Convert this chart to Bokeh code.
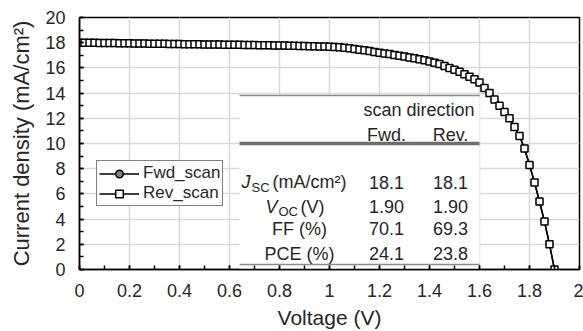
from bokeh.plotting import figure
from bokeh.models import FixedTicker, Label, Legend, LegendItem, Range1d, NumeralTickFormatter
from bokeh.embed import file_html
from bokeh.resources import INLINE

# ---------------- data ----------------
voltage = [0.00, 0.02, 0.04, 0.06, 0.08, 0.10, 0.12, 0.14, 0.16, 0.18,
           0.20, 0.22, 0.24, 0.26, 0.28, 0.30, 0.32, 0.34, 0.36, 0.38,
           0.40, 0.42, 0.44, 0.46, 0.48, 0.50, 0.52, 0.54, 0.56, 0.58,
           0.60, 0.62, 0.64, 0.66, 0.68, 0.70, 0.72, 0.74, 0.76, 0.78,
           0.80, 0.82, 0.84, 0.86, 0.88, 0.90, 0.92, 0.94, 0.96, 0.98,
           1.00, 1.02, 1.04, 1.06, 1.08, 1.10, 1.12, 1.14, 1.16, 1.18,
           1.20, 1.22, 1.24, 1.26, 1.28, 1.30, 1.32, 1.34, 1.36, 1.38,
           1.40, 1.42, 1.44, 1.46, 1.48, 1.50, 1.52, 1.54, 1.56, 1.58,
           1.60, 1.62, 1.64, 1.66, 1.68, 1.70, 1.72, 1.74, 1.76, 1.78,
           1.80, 1.82, 1.84, 1.86, 1.88, 1.90]

rev_current = [18.00, 18.00, 17.99, 17.99, 17.98, 17.98, 17.97, 17.97, 17.96, 17.96,
               17.95, 17.94, 17.93, 17.93, 17.92, 17.92, 17.91, 17.91, 17.90, 17.90,
               17.89, 17.88, 17.88, 17.87, 17.87, 17.86, 17.86, 17.85, 17.85, 17.84,
               17.84, 17.83, 17.83, 17.82, 17.82, 17.81, 17.80, 17.80, 17.79, 17.78,
               17.78, 17.77, 17.76, 17.75, 17.74, 17.73, 17.72, 17.71, 17.70, 17.69,
               17.68, 17.66, 17.63, 17.59, 17.55, 17.50, 17.45, 17.40, 17.34, 17.27,
               17.20, 17.15, 17.10, 17.03, 16.97, 16.90, 16.83, 16.76, 16.68, 16.60,
               16.50, 16.40, 16.30, 16.15, 16.00, 15.85, 15.70, 15.50, 15.30, 15.10,
               14.85, 14.40, 14.00, 13.50, 13.00, 12.50, 12.00, 11.30, 10.60, 9.60,
               8.30, 6.90, 5.40, 3.80, 2.00, 0.00]

# forward scan overlaps the reverse scan within reading accuracy
fwd_current = list(rev_current)

x_ticks = [0.0, 0.2, 0.4, 0.6, 0.8, 1.0, 1.2, 1.4, 1.6, 1.8, 2.0]
x_minor = [0.0, 0.1, 0.2, 0.3, 0.4, 0.5, 0.6, 0.7, 0.8, 0.9, 1.0,
           1.1, 1.2, 1.3, 1.4, 1.5, 1.6, 1.7, 1.8, 1.9, 2.0]
y_ticks = [0, 2, 4, 6, 8, 10, 12, 14, 16, 18, 20]
y_minor = list(range(0, 21))

series_names = ["Fwd_scan", "Rev_scan"]

table_title = "scan direction"
table_cols = ["Fwd.", "Rev."]
param_symbols = ["J", "V", "FF", "PCE"]
param_subscripts = ["SC", "OC", "", ""]
param_units = ["(mA/cm²)", "(V)", "(%)", "(%)"]
fwd_values = ["18.1", "1.90", "70.1", "24.1"]
rev_values = ["18.1", "1.90", "69.3", "23.8"]

# ---------------- layout / style ----------------
W, H = 583, 331
FRAME_L, FRAME_R, FRAME_T, FRAME_B = 79, 579, 17, 271
FONT = "Liberation Sans"
TXT = "#262626"


def dx(px):
    return (px - FRAME_L) / (FRAME_R - FRAME_L) * 2.0


def dy(py):
    return (FRAME_B - py) / (FRAME_B - FRAME_T) * 20.0


p = figure(width=W, height=H, output_backend="svg", toolbar_location=None,
           x_range=Range1d(0, 2), y_range=Range1d(0, 20),
           min_border_left=FRAME_L, min_border_right=W - FRAME_R,
           min_border_top=FRAME_T, min_border_bottom=H - FRAME_B)
p.background_fill_color = "white"
p.border_fill_color = "white"
p.outline_line_color = "black"
p.outline_line_width = 1.5

p.xaxis.ticker = FixedTicker(ticks=x_ticks, minor_ticks=x_minor)
p.yaxis.ticker = FixedTicker(ticks=y_ticks, minor_ticks=y_minor)
p.xaxis.formatter = NumeralTickFormatter(format="0.[0]")
for ax in (p.xaxis[0], p.yaxis[0]):
    ax.axis_line_color = "black"
    ax.axis_line_width = 1.5
    ax.major_tick_in = 4
    ax.major_tick_out = 0
    ax.minor_tick_in = 4
    ax.minor_tick_out = 0
    ax.major_tick_line_color = "black"
    ax.minor_tick_line_color = "black"
    ax.major_tick_line_width = 1.5
    ax.minor_tick_line_width = 1.5
    ax.major_label_text_font = FONT
    ax.major_label_text_font_size = "18px"
    ax.major_label_text_color = TXT
    ax.axis_label_text_font = FONT
    ax.axis_label_text_font_style = "normal"
    ax.axis_label_text_color = TXT
p.xaxis.axis_label_text_font_size = "21px"
p.yaxis.axis_label_text_font_size = "22px"
p.xaxis.major_label_standoff = 14
p.yaxis.major_label_standoff = 14
p.xaxis.axis_label_standoff = 6
p.yaxis.axis_label_standoff = 8
p.xaxis.axis_label = "Voltage (V)"
p.yaxis.axis_label = "Current density (mA/cm²)"

p.xgrid.grid_line_color = "#d9d9d9"
p.ygrid.grid_line_color = "#d9d9d9"
p.xgrid.grid_line_width = 1.5
p.ygrid.grid_line_width = 1.5

# ---------------- table background & rules ----------------
TABLE_L, TABLE_R = dx(239), 1.6
TABLE_TOP, TABLE_MID, TABLE_BOT = dy(95.5), 10.0, dy(266)
p.quad(left=TABLE_L, right=TABLE_R, bottom=0, top=TABLE_TOP,
       fill_color="white", line_color=None)
p.segment(x0=TABLE_L, x1=TABLE_R, y0=TABLE_TOP, y1=TABLE_TOP, line_color="#8c8c8c", line_width=1.5)
p.segment(x0=TABLE_L, x1=TABLE_R, y0=TABLE_MID, y1=TABLE_MID, line_color="#6e6e6e", line_width=3.5)
p.segment(x0=TABLE_L, x1=TABLE_R, y0=TABLE_BOT, y1=TABLE_BOT, line_color="#8c8c8c", line_width=1.5)


def lab(x, y, text, size="18px", align="center", style="normal"):
    p.add_layout(Label(x=x, y=y, text=text, text_font=FONT, text_font_size=size,
                       text_color=TXT, text_align=align, text_baseline="middle",
                       text_font_style=style))


lab(dx(474), dy(110), table_title, align="right")
col_x = [dx(386), dx(450)]
for cx, name in zip(col_x, table_cols):
    lab(cx, dy(135), name)

row_y = [dy(183), dy(207.5), dy(230), dy(255)]
sym_left = [dx(241), dx(265)]
sub_left = [dx(251), dx(278)]
unit_left = [dx(272), dx(300)]
for i in range(4):
    if param_subscripts[i]:
        lab(sym_left[i], row_y[i], param_symbols[i], align="left", style="italic")
        lab(sub_left[i], row_y[i] - 0.42, param_subscripts[i], size="13px", align="left")
        lab(unit_left[i], row_y[i], param_units[i], align="left")
    else:
        lab(dx(299), row_y[i], param_symbols[i] + " " + param_units[i])
    lab(col_x[0], row_y[i], fwd_values[i])
    lab(col_x[1], row_y[i], rev_values[i])

# ---------------- curves ----------------
fl = p.line(voltage, fwd_current, line_color="black", line_width=1.5)
fm = p.scatter(voltage, fwd_current, marker="circle", size=6, fill_color="#808080",
               line_color="black", line_width=1.5)
rl = p.line(voltage, rev_current, line_color="black", line_width=1.5)
rm = p.scatter(voltage, rev_current, marker="square", size=7, fill_color="white",
               line_color="black", line_width=1.5)

legend = Legend(items=[LegendItem(label=series_names[0], renderers=[fl, fm]),
                       LegendItem(label=series_names[1], renderers=[rl, rm])],
                location=(17, 63))
legend.border_line_color = "black"
legend.border_line_width = 1.5
legend.background_fill_color = "white"
legend.background_fill_alpha = 1.0
legend.padding = 2
legend.spacing = 0
legend.margin = 0
legend.glyph_width = 40
legend.glyph_height = 19
legend.label_height = 19
legend.label_standoff = 4
legend.label_text_font = FONT
legend.label_text_font_size = "17px"
legend.label_text_color = TXT
p.add_layout(legend)

open("out.html", "w").write(file_html(p, INLINE))
